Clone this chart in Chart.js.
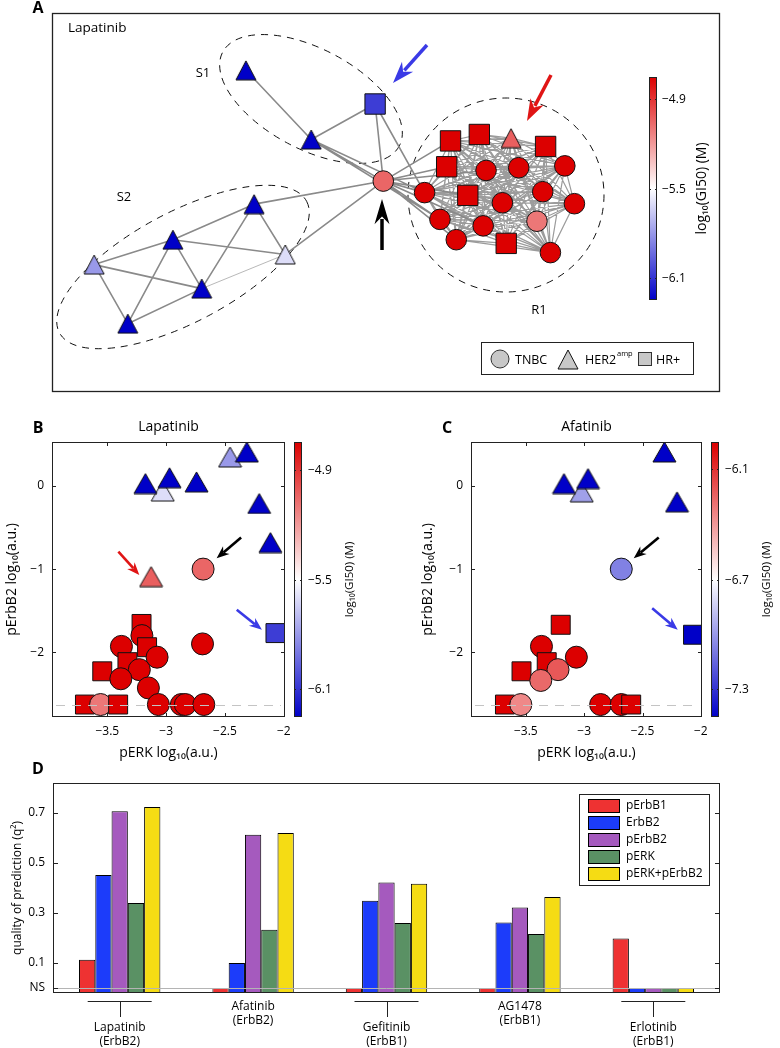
<!DOCTYPE html>
<html>
<head>
<meta charset="utf-8">
<script src="https://cdn.jsdelivr.net/npm/chart.js@4.4.1/dist/chart.umd.min.js"></script>
<style>
  body { margin: 0; background: #fff; width: 780px; height: 1048px; position: relative; overflow: hidden; }
  canvas { position: absolute; }
  #cA { left: 0; top: 0; }
  #cB { left: 0; top: 400px; }
  #cC { left: 390px; top: 400px; }
  #cD { left: 0; top: 760px; }
</style>
</head>
<body>
<canvas id="cA" width="780" height="400"></canvas>
<canvas id="cB" width="390" height="370"></canvas>
<canvas id="cC" width="390" height="370"></canvas>
<canvas id="cD" width="780" height="288"></canvas>
<script>
// ---------- data ----------

// panel A: network layout (node position in panel pixels), shape and log10(GI50)
const netX = [240, 374.5, 308, 383, 248.5, 164, 82, 281, 194, 117,
  453, 483, 516, 552, 449, 490, 524, 572, 426, 471, 507, 549, 582, 442, 487, 543, 459, 511, 557];
const netY = [59.5, 96, 134.5, 179.5, 204.5, 243, 270, 259, 296, 334,
  136, 129, 133, 142, 164, 168, 165, 163, 192, 195, 203, 191, 204, 221, 228, 223, 243, 247, 257];
const netShape = ['tri', 'rect', 'tri', 'circle', 'tri', 'tri', 'tri', 'tri', 'tri', 'tri',
  'rect', 'rect', 'tri', 'rect', 'rect', 'circle', 'circle', 'circle', 'circle', 'rect',
  'circle', 'circle', 'circle', 'circle', 'circle', 'circle', 'circle', 'rect', 'circle'];
const netGI50 = [-6.25, -6.07, -6.25, -5.05, -6.25, -6.25, -5.8, -5.6, -6.25, -6.25,
  -4.75, -4.75, -5.03, -4.75, -4.75, -4.75, -4.75, -4.75, -4.75, -4.75,
  -4.75, -4.75, -4.75, -4.75, -4.75, -5.1, -4.75, -4.75, -4.75];
const netEdges = [[0, 2], [2, 1], [1, 3], [2, 3], [1, 18], [2, 18], [2, 23],
  [3, 10], [3, 14], [3, 18], [3, 19], [3, 23], [3, 26], [3, 15], [3, 24],
  [6, 5], [6, 8], [6, 9], [5, 4], [5, 7], [5, 9], [5, 8], [4, 8], [4, 7], [8, 9], [4, 3], [7, 3]];
const netThinEdges = [[8, 7]];
const clusterR1 = [10, 11, 12, 13, 14, 15, 16, 17, 18, 19, 20, 21, 22, 23, 24, 25, 26, 27, 28];

// panel B: lapatinib
const lapPERK = [-3.029, -3.176, -2.971, -2.742, -2.457, -2.314, -2.209, -2.114, -3.128, -2.686, -2.071, -2.691,
  -3.209, -3.206, -3.38, -3.162, -3.077, -3.329, -3.543, -3.228, -3.385, -3.151,
  -3.69, -3.557, -3.408, -3.066, -2.871, -2.837, -2.68];
const lapPErbB2 = [-0.06, 0.03, 0.10, 0.05, 0.35, 0.41, -0.21, -0.68, -1.09, -1.00, -1.77, -1.90,
  -1.66, -1.80, -1.93, -1.94, -2.06, -2.12, -2.23, -2.21, -2.32, -2.43,
  -2.63, -2.63, -2.63, -2.63, -2.63, -2.63, -2.63];
const lapShape = ['tri', 'tri', 'tri', 'tri', 'tri', 'tri', 'tri', 'tri', 'tri', 'circle', 'rect', 'circle',
  'rect', 'circle', 'circle', 'rect', 'circle', 'rect', 'rect', 'circle', 'circle', 'circle',
  'rect', 'circle', 'rect', 'circle', 'circle', 'circle', 'circle'];
const lapGI50 = [-5.6, -6.25, -6.25, -6.25, -5.8, -6.25, -6.25, -6.25, -5.03, -5.05, -6.07, -4.75,
  -4.75, -4.75, -4.75, -4.75, -4.75, -4.75, -4.75, -4.75, -4.75, -4.75,
  -4.75, -5.1, -4.75, -4.75, -4.75, -4.75, -4.75];

// panel C: afatinib
const afaPERK = [-3.021, -3.173, -2.967, -2.312, -2.204, -2.682, -2.067,
  -3.201, -3.366, -3.067, -3.321, -3.537, -3.224, -3.372,
  -3.679, -3.543, -2.859, -2.682, -2.597];
const afaPErbB2 = [-0.07, 0.03, 0.09, 0.41, -0.19, -1.00, -1.79,
  -1.67, -1.93, -2.06, -2.12, -2.23, -2.21, -2.34,
  -2.63, -2.63, -2.63, -2.63, -2.63];
const afaShape = ['tri', 'tri', 'tri', 'tri', 'tri', 'circle', 'rect',
  'rect', 'circle', 'circle', 'rect', 'rect', 'circle', 'circle',
  'rect', 'circle', 'circle', 'circle', 'rect'];
const afaGI50 = [-6.98, -7.45, -7.45, -7.45, -7.45, -7.07, -7.45,
  -5.95, -5.95, -5.95, -5.95, -5.95, -6.21, -6.26,
  -5.95, -6.35, -5.95, -5.95, -5.95];

const perkTicks = [-3.5, -3, -2.5, -2];
const perbb2Ticks = [-2, -1, 0];
const floorLevel = -2.63;
const lapRange = [-6.25, -4.75], lapCbTicks = [-4.9, -5.5, -6.1];
const afaRange = [-7.45, -5.95], afaCbTicks = [-6.1, -6.7, -7.3];

// panel D: quality of prediction (q2)
const drugs = ['Lapatinib', 'Afatinib', 'Gefitinib', 'AG1478', 'Erlotinib'];
const targets = ['(ErbB2)', '(ErbB2)', '(ErbB1)', '(ErbB1)', '(ErbB1)'];
const q2pErbB1 = [0.113, 0, 0, 0, 0.198];
const q2ErbB2 = [0.452, 0.10, 0.349, 0.262, 0];
const q2pErbB2 = [0.707, 0.613, 0.422, 0.322, 0];
const q2pERK = [0.34, 0.233, 0.26, 0.216, 0];
const q2Combo = [0.724, 0.62, 0.417, 0.364, 0];
const q2Ticks = [0, 0.1, 0.3, 0.5, 0.7];

// ---------- helpers ----------
const FONT = "'Open Sans', 'DejaVu Sans', sans-serif";
Chart.defaults.font.family = FONT;
Chart.defaults.color = '#000';
const RED = [220, 0, 0], BLUE = [0, 0, 200];

function gi50Color(v, range) {
  let t = (v - range[0]) / (range[1] - range[0]);
  t = Math.max(0, Math.min(1, t));
  let c;
  if (t < 0.5) { const s = t / 0.5; c = BLUE.map(k => k + (255 - k) * s); }
  else { const s = (t - 0.5) / 0.5; c = RED.map(k => 255 + (k - 255) * s); }
  return 'rgb(' + c.map(Math.round).join(',') + ')';
}

const triCache = {};
function triangleImg(color, w, h) {
  const key = color + '|' + w + 'x' + h;
  if (!triCache[key]) {
    const c = document.createElement('canvas');
    c.width = w + 2; c.height = h + 2;
    const g = c.getContext('2d');
    g.beginPath(); g.moveTo(1, h + 1); g.lineTo(w / 2 + 1, 1); g.lineTo(w + 1, h + 1); g.closePath();
    g.fillStyle = color; g.fill();
    g.lineWidth = 1; g.strokeStyle = '#111'; g.stroke();
    triCache[key] = c;
  }
  return triCache[key];
}

function fmtTick(v) { return (v < 0 ? '\u2212' : '') + Math.abs(v); }

function txt(ctx, s, x, y, o = {}) {
  ctx.save();
  ctx.font = (o.weight || 'normal') + ' ' + (o.size || 13) + 'px ' + FONT;
  ctx.fillStyle = o.color || '#000';
  ctx.textAlign = o.align || 'center';
  ctx.textBaseline = 'middle';
  ctx.translate(x, y);
  if (o.rot) ctx.rotate(o.rot);
  ctx.fillText(s, 0, 0);
  ctx.restore();
}

function arrow(ctx, x1, y1, x2, y2, color, lw, hl, hw) {
  const a = Math.atan2(y2 - y1, x2 - x1), c = Math.cos(a), s = Math.sin(a);
  const bx = x2 - hl * c, by = y2 - hl * s;
  ctx.save();
  ctx.strokeStyle = color; ctx.fillStyle = color; ctx.lineWidth = lw;
  ctx.beginPath(); ctx.moveTo(x1, y1); ctx.lineTo(bx + 2 * c, by + 2 * s); ctx.stroke();
  ctx.beginPath(); ctx.moveTo(x2, y2);
  ctx.lineTo(bx - hl * 0.15 * c + hw / 2 * s, by - hl * 0.15 * s - hw / 2 * c);
  ctx.lineTo(bx + hl * 0.2 * c, by + hl * 0.2 * s);
  ctx.lineTo(bx - hl * 0.15 * c - hw / 2 * s, by - hl * 0.15 * s + hw / 2 * c);
  ctx.closePath(); ctx.fill();
  ctx.restore();
}

function colorbar(ctx, x, top, bottom, w, range, ticks, o) {
  const [lo, hi] = range;
  const g = ctx.createLinearGradient(0, top, 0, bottom);
  g.addColorStop(0, 'rgb(' + RED.join(',') + ')');
  g.addColorStop(0.5, '#fff');
  g.addColorStop(1, 'rgb(' + BLUE.join(',') + ')');
  ctx.save();
  ctx.fillStyle = g; ctx.fillRect(x, top, w, bottom - top);
  ctx.strokeStyle = '#222'; ctx.lineWidth = 1;
  ctx.strokeRect(x + 0.5, top + 0.5, w - 1, bottom - top - 1);
  ticks.forEach(v => {
    const y = Math.round(top + (hi - v) / (hi - lo) * (bottom - top)) + 0.5;
    ctx.beginPath(); ctx.moveTo(x, y); ctx.lineTo(x + 2, y); ctx.moveTo(x + w - 2, y); ctx.lineTo(x + w, y); ctx.stroke();
    txt(ctx, fmtTick(v), x + w + o.gap, y, { size: o.size, align: 'left' });
  });
  ctx.restore();
  txt(ctx, 'log\u2081\u2080(GI50) (M)', o.titleX, (top + bottom) / 2, { size: o.titleSize, rot: -Math.PI / 2 });
}

// ---------- panel A ----------
const netColors = netGI50.map(v => gi50Color(v, lapRange));
const netStyles = netShape.map((s, i) => s === 'tri' ? triangleImg(netColors[i], 20, 19) : s);
const netRadii = netShape.map(s => s === 'rect' ? 14.4 : s === 'tri' ? 11 : 10.3);

function edgePoints(pairs) {
  const pts = [];
  pairs.forEach(([a, b]) => {
    pts.push({ x: netX[a], y: netY[a] }, { x: netX[b], y: netY[b] }, { x: null, y: null });
  });
  return pts;
}
const r1Pairs = [];
clusterR1.forEach((a, i) => clusterR1.slice(i + 1).forEach(b => r1Pairs.push([a, b])));

const panelADecor = {
  id: 'panelADecor',
  beforeDatasetsDraw(chart) {
    const ctx = chart.ctx;
    ctx.save();
    ctx.setLineDash([7, 6]); ctx.strokeStyle = '#111'; ctx.lineWidth = 1;
    [[311, 99, 100, 50, 28], [183, 267, 140, 55, -28], [506, 195, 98, 97, 0]].forEach(([cx, cy, a, b, r]) => {
      ctx.beginPath(); ctx.ellipse(cx, cy, a, b, r * Math.PI / 180, 0, 2 * Math.PI); ctx.stroke();
    });
    ctx.restore();
  },
  afterDraw(chart) {
    const ctx = chart.ctx;
    ctx.save();
    ctx.strokeStyle = '#222'; ctx.lineWidth = 1.3;
    ctx.strokeRect(52.5, 13.5, 667, 378);
    ctx.restore();
    txt(ctx, 'A', 38, 8, { size: 16, weight: 'bold' });
    txt(ctx, 'Lapatinib', 68, 28, { size: 13.5, align: 'left' });
    txt(ctx, 'S1', 203, 73, { size: 13 });
    txt(ctx, 'S2', 124, 197, { size: 13 });
    txt(ctx, 'R1', 539, 310, { size: 13 });
    arrow(ctx, 382, 250, 382, 199, '#000', 3.5, 22, 15);
    arrow(ctx, 427, 45, 393, 83, '#3a3ae6', 3.5, 19, 15);
    arrow(ctx, 551, 75, 527, 121, '#e01515', 3.5, 19, 15);
    colorbar(ctx, 649, 77, 300, 8, lapRange, lapCbTicks, { gap: 5, size: 12, titleX: 702, titleSize: 14 });
    // legend
    ctx.save();
    ctx.fillStyle = '#fff'; ctx.fillRect(481, 342, 212, 32);
    ctx.strokeStyle = '#222'; ctx.lineWidth = 1; ctx.strokeRect(481.5, 342.5, 212, 32);
    ctx.fillStyle = '#c8c8c8'; ctx.strokeStyle = '#333';
    ctx.beginPath(); ctx.arc(500, 359, 9, 0, 2 * Math.PI); ctx.fill(); ctx.stroke();
    ctx.drawImage(triangleImg('#c8c8c8', 20, 19), 557, 349);
    ctx.fillRect(638.5, 352.5, 13, 13); ctx.strokeRect(638.5, 352.5, 13, 13);
    ctx.restore();
    txt(ctx, 'TNBC', 515, 360, { size: 12.5, align: 'left' });
    txt(ctx, 'HER2', 585, 360, { size: 12.5, align: 'left' });
    txt(ctx, 'amp', 617, 354, { size: 7.5, align: 'left' });
    txt(ctx, 'HR+', 656, 360, { size: 12.5, align: 'left' });
  }
};

new Chart(document.getElementById('cA'), {
  type: 'scatter',
  data: {
    datasets: [
      { data: netX.map((x, i) => ({ x, y: netY[i] })), pointStyle: netStyles, pointRadius: netRadii,
        backgroundColor: netColors, borderColor: '#111', borderWidth: 1, order: 0 },
      { data: edgePoints(netEdges), showLine: true, pointRadius: 0, borderColor: '#8a8a8a', borderWidth: 1.6, order: 1 },
      { data: edgePoints(netThinEdges), showLine: true, pointRadius: 0, borderColor: '#9a9a9a', borderWidth: 0.7, order: 1 },
      { data: edgePoints(r1Pairs), showLine: true, pointRadius: 0, borderColor: '#9c9c9c', borderWidth: 1.2, order: 2 }
    ]
  },
  options: {
    responsive: false, animation: false, events: [],
    layout: { padding: 0 },
    plugins: { legend: { display: false }, tooltip: { enabled: false } },
    scales: {
      x: { type: 'linear', min: 0, max: 780, display: false },
      y: { type: 'linear', min: 0, max: 400, reverse: true, display: false }
    }
  },
  plugins: [panelADecor]
});

// ---------- panels B and C ----------
function scatterPanel(canvasId, p) {
  const cw = 390, ch = 370, xh = 50;
  const colors = p.gi50.map(v => gi50Color(v, p.range));
  const styles = p.shape.map((s, i) => s === 'tri' ? triangleImg(colors[i], 23, 20) : s);
  const radii = p.shape.map(s => s === 'rect' ? 13.4 : s === 'tri' ? 12 : 11);
  const decor = {
    id: 'decor' + canvasId,
    afterDatasetsDraw(chart) {
      const { ctx, chartArea: a } = chart;
      const y = Math.round(chart.scales.y.getPixelForValue(floorLevel)) + 0.5;
      ctx.save();
      ctx.strokeStyle = '#c4c4c4'; ctx.lineWidth = 1; ctx.setLineDash([9, 7]);
      ctx.beginPath(); ctx.moveTo(a.left + 4, y); ctx.lineTo(a.right - 4, y); ctx.stroke();
      ctx.restore();
    },
    afterDraw(chart) {
      const { ctx, chartArea: a, scales: { x: sx, y: sy } } = chart;
      ctx.save();
      ctx.strokeStyle = '#222'; ctx.lineWidth = 1;
      ctx.strokeRect(a.left + 0.5, a.top + 0.5, a.right - a.left - 1, a.bottom - a.top - 1);
      ctx.beginPath();
      perkTicks.forEach(v => {
        const x = Math.round(sx.getPixelForValue(v)) + 0.5;
        ctx.moveTo(x, a.bottom); ctx.lineTo(x, a.bottom - 4);
        ctx.moveTo(x, a.top); ctx.lineTo(x, a.top + 4);
      });
      perbb2Ticks.forEach(v => {
        const y = Math.round(sy.getPixelForValue(v)) + 0.5;
        ctx.moveTo(a.left, y); ctx.lineTo(a.left + 4, y);
        ctx.moveTo(a.right, y); ctx.lineTo(a.right - 4, y);
      });
      ctx.stroke();
      ctx.restore();
      p.arrows.forEach(([x1, y1, x2, y2, col]) => {
        arrow(ctx, sx.getPixelForValue(x1), sy.getPixelForValue(y1), sx.getPixelForValue(x2), sy.getPixelForValue(y2), col, 2.6, 11, 10);
      });
      txt(ctx, p.letter, p.letterX, 28, { size: 16, weight: 'bold' });
      txt(ctx, p.title, (a.left + a.right) / 2, 27, { size: 14 });
      colorbar(ctx, a.right + 9, a.top, a.bottom, 8, p.range, p.cbTicks, { gap: 6, size: 12, titleX: a.right + 65, titleSize: 11.5 });
    }
  };
  return new Chart(document.getElementById(canvasId), {
    type: 'scatter',
    data: {
      datasets: [{
        data: p.x.map((x, i) => ({ x, y: p.y[i] })), pointStyle: styles, pointRadius: radii,
        backgroundColor: colors, borderColor: '#111', borderWidth: 1
      }]
    },
    options: {
      responsive: false, animation: false, events: [],
      layout: { padding: { left: 0, top: p.area.top, right: cw - p.area.right, bottom: ch - p.area.bottom - xh } },
      plugins: { legend: { display: false }, tooltip: { enabled: false } },
      scales: {
        x: {
          type: 'linear', min: -3.97, max: -1.99,
          afterBuildTicks: s => { s.ticks = perkTicks.map(v => ({ value: v })); },
          afterFit: s => { s.height = xh; },
          grid: { display: false, drawTicks: false }, border: { display: false },
          ticks: { font: { size: 12 }, color: '#000', padding: 7, maxRotation: 0, autoSkip: false, callback: v => fmtTick(v) },
          title: { display: true, text: 'pERK log\u2081\u2080(a.u.)', font: { size: 14 }, color: '#000', padding: { top: 0, bottom: 6 } }
        },
        y: {
          type: 'linear', min: -2.78, max: 0.53,
          afterBuildTicks: s => { s.ticks = perbb2Ticks.map(v => ({ value: v })); },
          afterFit: s => { s.width = p.area.left; },
          grid: { display: false, drawTicks: false }, border: { display: false },
          ticks: { font: { size: 12 }, color: '#000', padding: 8, autoSkip: false, callback: v => fmtTick(v) },
          title: { display: true, text: 'pErbB2 log\u2081\u2080(a.u.)', font: { size: 14 }, color: '#000', padding: { top: p.yTitlePad, bottom: 0 } }
        }
      }
    },
    plugins: [decor]
  });
}

scatterPanel('cB', {
  x: lapPERK, y: lapPErbB2, shape: lapShape, gi50: lapGI50, range: lapRange, cbTicks: lapCbTicks,
  area: { left: 52, right: 285, top: 42, bottom: 317 }, yTitlePad: 3.6,
  letter: 'B', letterX: 38, title: 'Lapatinib',
  arrows: [[-3.406, -0.79, -3.228, -1.07, '#e01515'], [-2.363, -0.62, -2.571, -0.87, '#000'], [-2.40, -1.49, -2.186, -1.73, '#3a3ae6']]
});
scatterPanel('cC', {
  x: afaPERK, y: afaPErbB2, shape: afaShape, gi50: afaGI50, range: afaRange, cbTicks: afaCbTicks,
  area: { left: 81, right: 312, top: 42, bottom: 317 }, yTitlePad: 29.5,
  letter: 'C', letterX: 57, title: 'Afatinib',
  arrows: [[-2.361, -0.62, -2.575, -0.87, '#000'], [-2.417, -1.47, -2.198, -1.73, '#3a3ae6']]
});

// ---------- panel D ----------
const barSeries = [
  ['pErbB1', q2pErbB1, '#ee3232'],
  ['ErbB2', q2ErbB2, '#1c3cfa'],
  ['pErbB2', q2pErbB2, '#a55abe'],
  ['pERK', q2pERK, '#5a9164'],
  ['pERK+pErbB2', q2Combo, '#f5dc14']
];
const Q_MIN = -0.02, Q_MAX = 0.82;

const panelDDecor = {
  id: 'panelDDecor',
  afterDatasetsDraw(chart) {
    const { ctx, chartArea: a } = chart;
    const y = Math.round(chart.scales.y.getPixelForValue(0)) + 0.5;
    ctx.save();
    ctx.strokeStyle = '#b4b4b4'; ctx.lineWidth = 1;
    ctx.beginPath(); ctx.moveTo(a.left, y); ctx.lineTo(a.right, y); ctx.stroke();
    ctx.restore();
  },
  afterDraw(chart) {
    const { ctx, chartArea: a, scales: { x: sx, y: sy } } = chart;
    ctx.save();
    ctx.strokeStyle = '#222'; ctx.lineWidth = 1;
    ctx.strokeRect(a.left + 0.5, a.top + 0.5, a.right - a.left - 1, a.bottom - a.top - 1);
    ctx.beginPath();
    q2Ticks.forEach(v => {
      const y = Math.round(sy.getPixelForValue(v)) + 0.5;
      ctx.moveTo(a.left, y); ctx.lineTo(a.left + 5, y);
      ctx.moveTo(a.right, y); ctx.lineTo(a.right - 5, y);
    });
    ctx.stroke();
    // category labels, with brackets under every other group
    ctx.beginPath();
    drugs.forEach((d, i) => {
      const cx = sx.getPixelForValue(i);
      if (i % 2 === 0) {
        ctx.moveTo(cx - 32, a.bottom + 8.5); ctx.lineTo(cx + 32, a.bottom + 8.5);
        ctx.moveTo(Math.round(cx) + 0.5, a.bottom + 8.5); ctx.lineTo(Math.round(cx) + 0.5, a.bottom + 24);
      }
    });
    ctx.stroke();
    ctx.restore();
    drugs.forEach((d, i) => {
      const cx = sx.getPixelForValue(i);
      const y0 = i % 2 === 0 ? a.bottom + 34.5 : a.bottom + 13.5;
      txt(ctx, d, cx, y0, { size: 12 });
      txt(ctx, targets[i], cx, y0 + 14.5, { size: 12 });
    });
    txt(ctx, 'D', 38, 9, { size: 16, weight: 'bold' });
    // legend
    const lx = 579, ly = 34, lw = 130, lh = 91;
    ctx.save();
    ctx.fillStyle = '#fff'; ctx.fillRect(lx, ly, lw, lh);
    ctx.strokeStyle = '#222'; ctx.lineWidth = 1; ctx.strokeRect(lx + 0.5, ly + 0.5, lw, lh);
    chart.data.datasets.forEach((ds, i) => {
      const cy = ly + 12 + i * 17;
      ctx.fillStyle = ds.backgroundColor; ctx.fillRect(lx + 9.5, cy - 6.5, 31, 13);
      ctx.strokeStyle = '#000'; ctx.strokeRect(lx + 9.5, cy - 6.5, 31, 13);
      txt(ctx, ds.label, lx + 47, cy, { size: 12, align: 'left' });
    });
    ctx.restore();
  }
};

new Chart(document.getElementById('cD'), {
  type: 'bar',
  data: {
    labels: drugs,
    datasets: barSeries.map(([label, data, color]) => ({
      label, data, backgroundColor: color, borderColor: '#000', borderWidth: 1, borderSkipped: false,
      base: Q_MIN, categoryPercentage: 0.61, barPercentage: 1
    }))
  },
  options: {
    responsive: false, animation: false, events: [],
    layout: { padding: { left: 0, top: 23, right: 60, bottom: 55 } },
    plugins: { legend: { display: false }, tooltip: { enabled: false } },
    scales: {
      x: { display: false },
      y: {
        min: Q_MIN, max: Q_MAX,
        afterBuildTicks: s => { s.ticks = q2Ticks.map(v => ({ value: v })); },
        afterFit: s => { s.width = 53; },
        grid: { display: false, drawTicks: false }, border: { display: false },
        ticks: { font: { size: 12 }, color: '#000', padding: 8, autoSkip: false, callback: v => v === 0 ? 'NS' : v.toFixed(1) },
        title: { display: true, text: 'quality of prediction (q\u00b2)', font: { size: 12 }, color: '#000', padding: { top: 10, bottom: 0 } }
      }
    }
  },
  plugins: [panelDDecor]
});
</script>
</body>
</html>
